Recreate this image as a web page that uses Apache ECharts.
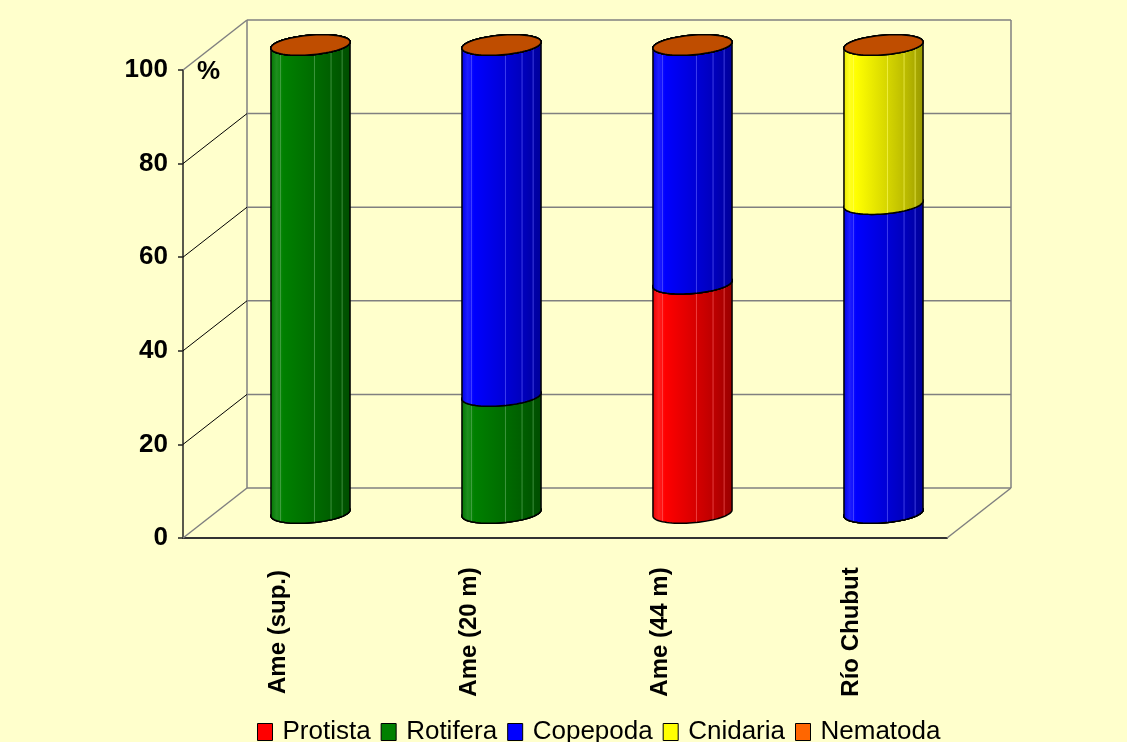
<!DOCTYPE html>
<html>
<head>
<meta charset="utf-8">
<script src="https://cdn.jsdelivr.net/npm/echarts@6.0.0/dist/echarts.min.js"></script>
<style>
  html, body { margin: 0; padding: 0; background: #FFFFCC; }
  #chart { width: 1127px; height: 742px; }
</style>
</head>
<body>
<div id="chart"></div>
<script>
// Sampling sites and percentage composition of each taxon (stacked to 100 %)
const categories = ['Ame (sup.)', 'Ame (20 m)', 'Ame (44 m)', 'Río Chubut'];
const taxa = ['Protista', 'Rotifera', 'Copepoda', 'Cnidaria', 'Nematoda'];
const protista = [0, 0, 49, 0];
const rotifera = [100, 25, 0, 0];
const copepoda = [0, 75, 51, 66];
const cnidaria = [0, 0, 0, 34];
const nematoda = [0, 0, 0, 0];
const yTicks = [0, 20, 40, 60, 80, 100];

const taxonValues = [protista, rotifera, copepoda, cnidaria, nematoda];
const taxonColors = ['#FF0000', '#008000', '#0000FF', '#FFFF00', '#FF6600'];

// Oblique projection of the chart box: how far the back wall sits from the front plane
const DEPTH_X = 64, DEPTH_Y = -50;
const FONT = '"Liberation Sans", Arial, sans-serif';

function shade(hex, k) {
  const n = parseInt(hex.slice(1), 16);
  const r = Math.round(((n >> 16) & 255) * k);
  const g = Math.round(((n >> 8) & 255) * k);
  const b = Math.round((n & 255) * k);
  return 'rgb(' + r + ',' + g + ',' + b + ')';
}
function lighten(hex, t) {
  const n = parseInt(hex.slice(1), 16);
  const f = c => Math.round(c + (255 - c) * t);
  return 'rgb(' + f((n >> 16) & 255) + ',' + f((n >> 8) & 255) + ',' + f(n & 255) + ')';
}

// Cylinder segment: body with rounded bottom, elliptic top cap
function makeCylinderRenderer(color) {
  const body = new echarts.graphic.LinearGradient(0, 0, 1, 0, [
    { offset: 0, color: shade(color, 0.9) },
    { offset: 0.08, color: lighten(color, 0.12) },
    { offset: 0.16, color: shade(color, 1.0) },
    { offset: 0.5, color: shade(color, 0.86) },
    { offset: 0.8, color: shade(color, 0.72) },
    { offset: 1, color: shade(color, 0.6) }
  ]);
  const capColor = shade(color, 0.75);
  const stripe = lighten(color, 0.4);
  return function (params, api) {
    const cat = api.value(0), lo = api.value(1), hi = api.value(2);
    const band = api.size([1, 0])[0];
    const pLo = api.coord([cat, lo]);
    const pHi = api.coord([cat, hi]);
    const cx = pLo[0] + DEPTH_X / 2;
    const yLo = pLo[1] + DEPTH_Y / 2;
    const yHi = pHi[1] + DEPTH_Y / 2;
    const W = band * 0.207;
    const A = W * 0.30, B = W * 0.26;
    const R = Math.sqrt(W * W - A * A);
    const t0 = Math.atan2(A, R);
    const pt = (cy, t) => [cx + R * Math.cos(t) + A * Math.sin(t), cy - B * Math.sin(t)];
    const N = 40;
    const bodyPts = [];
    for (let i = 0; i <= N; i++) bodyPts.push(pt(yLo, t0 + Math.PI + Math.PI * i / N));
    for (let i = 0; i <= N; i++) bodyPts.push(pt(yHi, t0 + Math.PI * i / N));
    const capPts = [];
    for (let i = 0; i < 2 * N; i++) capPts.push(pt(yHi, Math.PI * i / N));

    const children = [{
      type: 'polygon',
      shape: { points: bodyPts },
      style: { fill: body, stroke: '#000', lineWidth: 1.5 }
    }];
    if (yLo - yHi > 2) {
      [0.12, 0.55, 0.76, 0.9].forEach(f => {
        const u = -1 + 2 * f;
        const x = cx + W * u;
        const off = B * Math.sqrt(Math.max(0, 1 - u * u)) - B * Math.sin(t0) * u;
        children.push({
          type: 'line',
          shape: { x1: x, y1: yHi + off, x2: x, y2: yLo + off - 1 },
          style: { stroke: stripe, lineWidth: 1, opacity: 0.6 }
        });
      });
    }
    children.push({
      type: 'polygon',
      shape: { points: capPts },
      style: { fill: capColor, stroke: '#000', lineWidth: 1.5 }
    });
    return { type: 'group', children: children };
  };
}

// Side wall, floor and back wall with gridlines
function renderWalls(params, api) {
  const v = api.value(1);
  const band = api.size([1, 0])[0];
  const p = api.coord([0, v]);
  const L = p[0] - band / 2;
  const Rx = L + band * categories.length;
  const y = p[1];
  const yTop = api.coord([0, yTicks[yTicks.length - 1]])[1];
  const gray = '#808080';
  const edge = v === yTicks[0] || v === yTicks[yTicks.length - 1];
  const lines = [
    [L, y, L + DEPTH_X, y + DEPTH_Y, edge ? gray : '#000', edge ? 1.5 : 1],
    [L + DEPTH_X, y + DEPTH_Y, Rx + DEPTH_X, y + DEPTH_Y, gray, 1.5]
  ];
  if (v === yTicks[0]) {
    lines.push([Rx, y, Rx + DEPTH_X, y + DEPTH_Y, gray, 1.5]);
    lines.push([L + DEPTH_X, y + DEPTH_Y, L + DEPTH_X, yTop + DEPTH_Y, gray, 1.5]);
    lines.push([Rx + DEPTH_X, y + DEPTH_Y, Rx + DEPTH_X, yTop + DEPTH_Y, gray, 1.5]);
  }
  return {
    type: 'group',
    children: lines.map(l => ({
      type: 'line',
      shape: { x1: l[0], y1: l[1], x2: l[2], y2: l[3] },
      style: { stroke: l[4], lineWidth: l[5] }
    }))
  };
}

const base = categories.map(() => 0);
const cylinderSeries = taxa.map((name, si) => {
  const data = categories.map((c, ci) => {
    const lo = base[ci];
    const hi = lo + taxonValues[si][ci];
    base[ci] = hi;
    return [ci, lo, hi];
  });
  return {
    name: name,
    type: 'custom',
    z: 3,
    clip: false,
    itemStyle: { color: taxonColors[si] },
    encode: { x: 0, y: [1, 2] },
    renderItem: makeCylinderRenderer(taxonColors[si]),
    data: data
  };
});

const chart = echarts.init(document.getElementById('chart'), null, { renderer: 'canvas' });
chart.setOption({
  backgroundColor: '#FFFFCC',
  animation: false,
  color: taxonColors,
  grid: { left: 183, right: 180, top: 70, bottom: 204 },
  legend: {
    data: taxa,
    top: 714,
    left: 252,
    icon: 'rect',
    itemWidth: 15,
    itemHeight: 17,
    itemGap: 10,
    itemStyle: { borderColor: '#000', borderWidth: 1 },
    textStyle: { fontFamily: FONT, fontSize: 26, color: '#000', padding: [0, 0, 0, 5] }
  },
  xAxis: {
    type: 'category',
    data: categories,
    axisLine: { lineStyle: { color: '#333', width: 2 } },
    axisTick: { length: 8, lineStyle: { color: '#333', width: 1.5 } },
    axisLabel: {
      rotate: 90,
      align: 'center',
      verticalAlign: 'middle',
      margin: 94,
      fontFamily: FONT,
      fontSize: 24,
      fontWeight: 'bold',
      color: '#000'
    },
    splitLine: { show: false }
  },
  yAxis: {
    type: 'value',
    min: 0,
    max: 100,
    interval: 20,
    name: '%',
    nameLocation: 'end',
    nameGap: -2,
    nameTextStyle: {
      fontFamily: FONT, fontSize: 26, fontWeight: 'bold', color: '#000',
      align: 'left', verticalAlign: 'middle', padding: [0, 0, 0, 14]
    },
    axisLine: { show: true, lineStyle: { color: '#222', width: 1.5 } },
    axisTick: { show: true, length: 5, lineStyle: { color: '#222', width: 1.5 } },
    axisLabel: { margin: 15, fontFamily: FONT, fontSize: 26, fontWeight: 'bold', color: '#000' },
    splitLine: { show: false }
  },
  series: [{
    name: 'walls',
    type: 'custom',
    z: 1,
    clip: false,
    silent: true,
    encode: { x: 0, y: 1 },
    renderItem: renderWalls,
    data: yTicks.map(v => [0, v])
  }].concat(cylinderSeries)
});
</script>
</body>
</html>
